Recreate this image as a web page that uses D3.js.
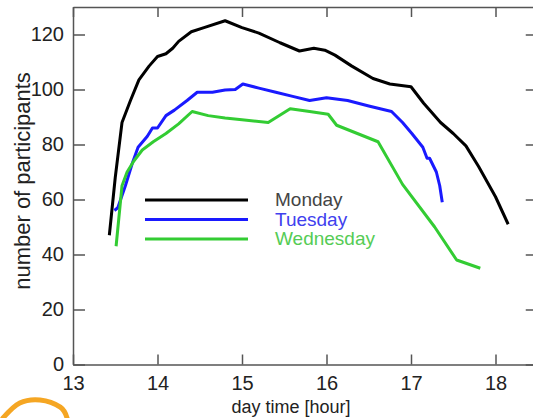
<!DOCTYPE html>
<html>
<head>
<meta charset="utf-8">
<script src="https://cdn.jsdelivr.net/npm/d3@7"></script>
<style>
  body { margin: 0; background: #fff; }
  svg { display: block; font-family: "Liberation Sans", Arial, sans-serif; }
</style>
</head>
<body>
<div id="chart"></div>
<script>
// data: [hour, participants]
const monday = [[13.43,47],[13.5,68],[13.58,88],[13.68,96],[13.78,103.5],[13.9,108.5],[14.0,112],[14.1,113],[14.18,115],
  [14.25,117.5],[14.4,121],[14.55,122.5],[14.8,125],[15.0,122.5],[15.2,120.5],[15.45,117],[15.68,114],[15.85,115],
  [15.98,114.3],[16.1,112.5],[16.3,108.5],[16.55,104],[16.75,102],[17.0,101],[17.15,95],[17.35,88],[17.5,84],
  [17.65,79.5],[17.8,72],[18.0,61],[18.15,51]];
const tuesday = [[13.49,56],[13.53,57],[13.62,65],[13.7,73],[13.77,79],[13.88,83],[13.94,86],[14.0,86],[14.1,90.5],
  [14.2,92.5],[14.35,96],[14.47,99],[14.65,99],[14.8,99.8],[14.92,100],[15.01,102],[15.2,100.5],[15.4,99],
  [15.6,97.5],[15.8,96],[16.0,97],[16.25,96],[16.5,94],[16.77,92],[16.9,88],[17.01,84],[17.14,79],[17.19,75],
  [17.22,75],[17.3,70],[17.34,65],[17.37,59]];
const wednesday = [[13.51,43],[13.58,65],[13.64,70],[13.72,74],[13.82,78],[13.95,81],[14.1,84],[14.25,87.5],
  [14.41,92],[14.6,90.5],[14.8,89.6],[15.0,89],[15.31,88],[15.57,93],[15.8,92],[16.02,91],[16.12,87],[16.61,81],
  [16.9,65.5],[17.28,50],[17.54,38],[17.82,35]];

const seriesNames = ["Monday", "Tuesday", "Wednesday"];
const xTicks = [13, 14, 15, 16, 17, 18];
const yTicks = [0, 20, 40, 60, 80, 100, 120];

// stray orange pen mark under the axis (in data units)
const scribble = [[12.17,-19.5],[12.37,-14],[12.61,-12.9],[12.85,-15.5],[12.93,-19.5]];

const width = 533;
const height = 418;
const marginLeft = 73;
const marginTop = 7;
const plotRight = 537.75;
const plotBottom = 364.5;

const x = d3.scaleLinear([13, 18.5], [marginLeft, plotRight]);
const y = d3.scaleLinear([0, 130], [plotBottom, marginTop]);

const lineColors = ["#000000", "#1a1aff", "#33cc33"];
const textColors = ["#444444", "#4040ee", "#55cc55"];

const svg = d3.create("svg")
    .attr("width", width)
    .attr("height", height);

const axisColor = "#555";

function styleAxis(g) {
  g.selectAll(".domain").attr("stroke", axisColor).attr("stroke-width", 1.5);
  g.selectAll(".tick line").attr("stroke", axisColor).attr("stroke-width", 1.5);
  g.selectAll(".tick text").attr("fill", "#222").style("font-size", "20px");
}

// bottom axis with labels
svg.append("g")
    .attr("transform", `translate(0,${plotBottom})`)
    .call(d3.axisBottom(x).tickValues(xTicks).tickFormat(d3.format("d"))
      .tickSizeInner(-10).tickSizeOuter(0).tickPadding(11))
    .call(styleAxis)
    .call(g => g.attr("font-family", null));

// left axis with labels
svg.append("g")
    .attr("transform", `translate(${marginLeft},0)`)
    .call(d3.axisLeft(y).tickValues(yTicks).tickFormat(d3.format("d"))
      .tickSizeInner(-12).tickSizeOuter(0).tickPadding(9))
    .call(styleAxis)
    .call(g => g.attr("font-family", null));

// top and right axes, ticks only
svg.append("g")
    .attr("transform", `translate(0,${marginTop})`)
    .call(d3.axisTop(x).tickValues(xTicks).tickFormat("").tickSizeInner(-10).tickSizeOuter(0))
    .call(styleAxis);
svg.append("g")
    .attr("transform", `translate(${plotRight},0)`)
    .call(d3.axisRight(y).tickValues(yTicks).tickFormat("").tickSizeInner(-12).tickSizeOuter(0))
    .call(styleAxis);

const line = d3.line()
    .x(d => x(d[0]))
    .y(d => y(d[1]));

[monday, tuesday, wednesday].forEach((data, i) => {
  svg.append("path")
      .attr("d", line(data))
      .attr("fill", "none")
      .attr("stroke", lineColors[i])
      .attr("stroke-width", 3)
      .attr("stroke-linejoin", "round");
});

// legend
const legend = svg.append("g").attr("transform", "translate(145,200)");
seriesNames.forEach((name, i) => {
  legend.append("line")
      .attr("x1", 0).attr("x2", 103)
      .attr("y1", i * 19.5).attr("y2", i * 19.5)
      .attr("stroke", lineColors[i])
      .attr("stroke-width", 3);
  legend.append("text")
      .attr("x", 130)
      .attr("y", i * 19.5 + 6)
      .attr("fill", textColors[i])
      .style("font-size", "19px")
      .text(name);
});

// axis titles
svg.append("text")
    .attr("x", 291)
    .attr("y", 413)
    .attr("text-anchor", "middle")
    .attr("fill", "#222")
    .style("font-size", "18px")
    .text("day time [hour]");

svg.append("text")
    .attr("transform", "translate(30,181) rotate(-90)")
    .attr("text-anchor", "middle")
    .attr("fill", "#222")
    .style("font-size", "22px")
    .text("number of participants");

svg.append("path")
    .attr("d", d3.line().curve(d3.curveCardinal).x(d => x(d[0])).y(d => y(d[1]))(scribble))
    .attr("fill", "none")
    .attr("stroke", "#f5a623")
    .attr("stroke-width", 5)
    .attr("stroke-linecap", "round");

document.getElementById("chart").append(svg.node());
</script>
</body>
</html>
